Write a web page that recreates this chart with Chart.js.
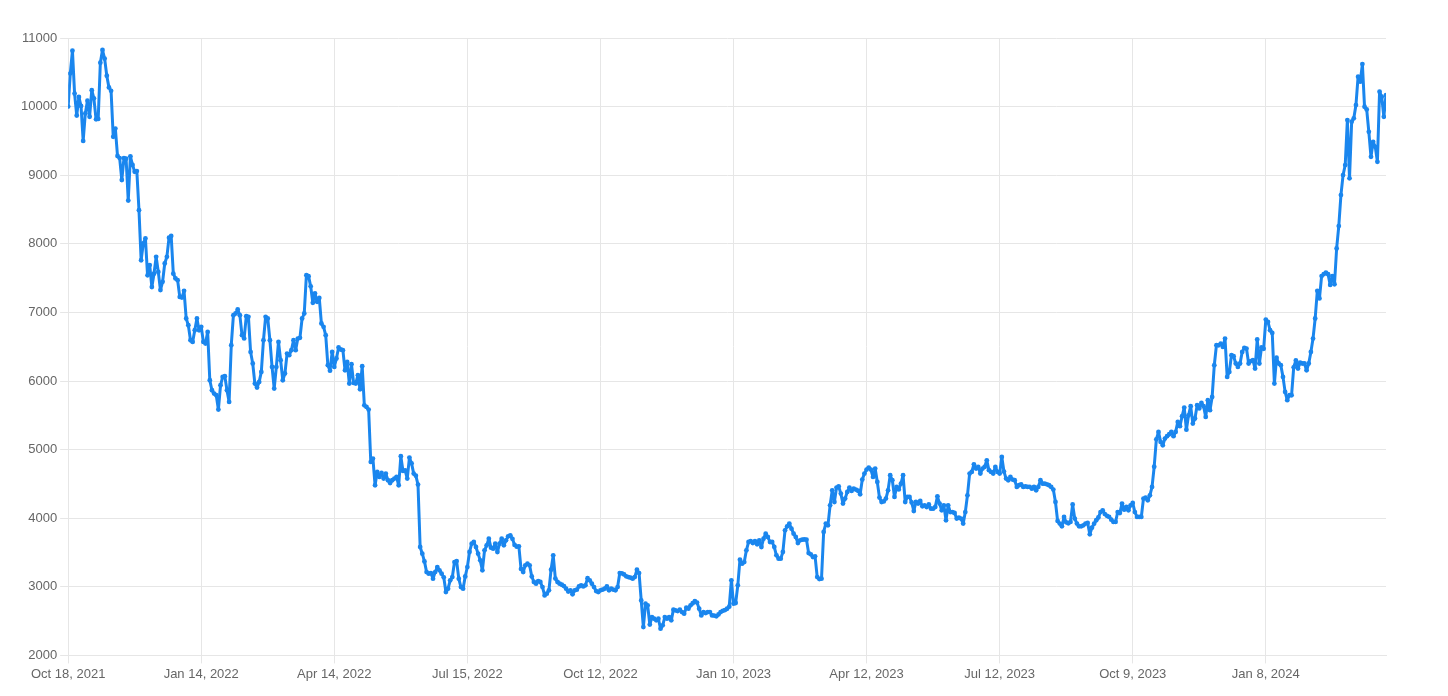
<!DOCTYPE html>
<html>
<head>
<meta charset="utf-8">
<script src="https://cdn.jsdelivr.net/npm/chart.js@4.4.1/dist/chart.umd.min.js"></script>
<style>
  html, body { margin: 0; padding: 0; background: #fff; }
  #wrap { width: 1448px; height: 696px; }
</style>
</head>
<body>
<div id="wrap"><canvas id="priceChart"></canvas></div>
<script>
// ─────────────── DATA ───────────────
// one value per trading day, a date label every 62 sessions
const tickLabels = ['Oct 18, 2021', 'Jan 14, 2022', 'Apr 14, 2022', 'Jul 15, 2022', 'Oct 12, 2022',
    'Jan 10, 2023', 'Apr 12, 2023', 'Jul 12, 2023', 'Oct 9, 2023', 'Jan 8, 2024'];
const tickEvery = 62;
const yTicks = [2000, 3000, 4000, 5000, 6000, 7000, 8000, 9000, 10000, 11000];

const values = [
    10000, 10485, 10815, 10190, 9870, 10140, 10010, 9500, 9900, 10085,
    9852, 10240, 10120, 9815, 9820, 10640, 10825, 10700, 10450, 10280,
    10230, 9560, 9680, 9280, 9250, 8930, 9250, 9240, 8630, 9275,
    9150, 9050, 9060, 8490, 7760, 8005, 8078, 7540, 7690, 7370,
    7565, 7810, 7590, 7325, 7445, 7713, 7810, 8090, 8115, 7565,
    7495, 7470, 7226, 7217, 7314, 6911, 6813, 6594, 6570, 6740,
    6911, 6740, 6790, 6570, 6546, 6716, 6011, 5865, 5817, 5792,
    5584, 5938, 6060, 6070, 5865, 5695, 6522, 6960, 6984, 7042,
    6960, 6668, 6620, 6945, 6935, 6424, 6255, 5963, 5905, 5987,
    6132, 6594, 6935, 6911, 6594, 6205, 5890, 6205, 6570, 6303,
    6011, 6109, 6400, 6376, 6449, 6594, 6449, 6619, 6630, 6911,
    6984, 7543, 7528, 7380, 7140, 7276, 7154, 7210, 6838, 6789,
    6668, 6230, 6150, 6424, 6205, 6328, 6488, 6459, 6449, 6157,
    6278, 5963, 6244, 5972, 5963, 6084, 5880, 6215, 5646, 5622,
    5584, 4820, 4869, 4480, 4674, 4601, 4660, 4577, 4650, 4553,
    4513, 4553, 4577, 4601, 4480, 4903, 4689, 4698, 4577, 4884,
    4800, 4650, 4620, 4490, 3580, 3483, 3370, 3215, 3192, 3200,
    3119, 3215, 3288, 3240, 3192, 3138, 2923, 2973, 3094, 3142,
    3361, 3375, 3119, 2996, 2973, 3150, 3288, 3507, 3629, 3653,
    3580, 3483, 3386, 3240, 3532, 3604, 3702, 3570, 3556, 3629,
    3507, 3629, 3702, 3604, 3677, 3736, 3750, 3700, 3610, 3585,
    3590, 3260, 3215, 3313, 3337, 3313, 3150, 3070, 3046, 3084,
    3070, 2996, 2875, 2900, 2948, 3250, 3459, 3120, 3070, 3046,
    3030, 3010, 2973, 2930, 2948, 2890, 2948, 2958, 3006, 3021,
    3006, 3021, 3125, 3094, 3046, 2996, 2938, 2923, 2948, 2958,
    2973, 3006, 2948, 2973, 2958, 2950, 2996, 3200, 3195, 3180,
    3152, 3142, 3133, 3119, 3142, 3250, 3200, 2802, 2413, 2754,
    2730, 2450, 2559, 2535, 2511, 2535, 2389, 2438, 2559, 2535,
    2559, 2511, 2667, 2656, 2646, 2667, 2632, 2608, 2696, 2681,
    2730, 2760, 2792, 2770, 2681, 2583, 2632, 2617, 2632, 2632,
    2583, 2580, 2569, 2598, 2632, 2650, 2660, 2680, 2710, 3094,
    2754, 2764, 3021, 3396, 3337, 3361, 3532, 3653, 3667, 3638,
    3667, 3620, 3677, 3580, 3702, 3775, 3726, 3653, 3653, 3580,
    3459, 3410, 3410, 3507, 3823, 3882, 3921, 3848, 3775, 3726,
    3638, 3677, 3687, 3690, 3687, 3492, 3473, 3434, 3444, 3142,
    3113, 3119, 3799, 3921, 3896, 4188, 4407, 4236, 4446, 4465,
    4359, 4213, 4286, 4383, 4446, 4397, 4431, 4417, 4400, 4349,
    4563, 4650, 4709, 4738, 4709, 4601, 4723, 4528, 4300, 4236,
    4245, 4286, 4407, 4626, 4553, 4310, 4456, 4420, 4504, 4626,
    4236, 4310, 4310, 4230, 4105, 4236, 4213, 4251, 4173, 4188,
    4163, 4200, 4139, 4139, 4163, 4319, 4213, 4115, 4188, 3969,
    4188, 4090, 4090, 4076, 3994, 4008, 3994, 3921, 4090, 4334,
    4650, 4674, 4786, 4723, 4747, 4650, 4723, 4747, 4844, 4700,
    4674, 4650, 4747, 4674, 4650, 4893, 4680, 4577, 4553, 4601,
    4563, 4553, 4456, 4480, 4494, 4456, 4465, 4456, 4456, 4431,
    4456, 4407, 4456, 4553, 4504, 4504, 4494, 4480, 4456, 4417,
    4236, 3960, 3921, 3882, 4018, 3940, 3925, 3945, 4200, 3994,
    3921, 3882, 3882, 3896, 3921, 3930, 3765, 3862, 3920, 3970,
    4010, 4090, 4115, 4060, 4035, 4018, 3979, 3945, 3945, 4090,
    4076, 4213, 4125, 4163, 4115, 4188, 4222, 4090, 4018, 4018,
    4018, 4286, 4300, 4261, 4334, 4456, 4750, 5150, 5258, 5112,
    5063, 5161, 5195, 5224, 5258, 5195, 5258, 5404, 5341, 5487,
    5613, 5290, 5500, 5633, 5379, 5453, 5647, 5600, 5681, 5633,
    5477, 5720, 5574, 5768, 6230, 6522, 6520, 6546, 6497, 6619,
    6060, 6132, 6376, 6361, 6255, 6205, 6255, 6424, 6483, 6473,
    6255, 6290, 6303, 6182, 6605, 6255, 6488, 6470, 6896, 6861,
    6740, 6700, 5963, 6340, 6255, 6230, 6060, 5841, 5720, 5792,
    5792, 6200, 6300, 6182, 6266, 6255, 6255, 6157, 6255, 6424,
    6619, 6911, 7314, 7203, 7530, 7557, 7580, 7557, 7400, 7530,
    7410, 7932, 8258, 8710, 9002, 9148, 9804, 8954, 9780, 9829,
    10022, 10436, 10363, 10620, 9998, 9959, 9633, 9268, 9487, 9414,
    9195, 10217, 10144, 9852, 10168
];

// ─────────────── CHART ───────────────
const lineColor = '#1a86ee';
const gridColor = '#e6e6e6';
const textColor = '#666666';
const tickFont = { family: 'Liberation Sans, Arial, sans-serif', size: 13 };

const points = values.map((v, i) => ({ x: i, y: v }));

const ctx = document.getElementById('priceChart');
new Chart(ctx, {
    type: 'line',
    data: {
        datasets: [{
            data: points,
            borderColor: lineColor,
            backgroundColor: lineColor,
            borderWidth: 3,
            borderJoinStyle: 'round',
            borderCapStyle: 'round',
            pointRadius: 2.4,
            pointBorderWidth: 0,
            pointBackgroundColor: lineColor,
            tension: 0,
            fill: false
        }]
    },
    options: {
        responsive: true,
        maintainAspectRatio: false,
        animation: false,
        devicePixelRatio: 1,
        layout: { padding: { left: 18, right: 62, top: 38, bottom: 11 } },
        plugins: {
            legend: { display: false },
            tooltip: { enabled: false }
        },
        scales: {
            x: {
                type: 'linear',
                min: 0,
                max: values.length - 1,
                grid: { color: gridColor },
                border: { color: gridColor },
                ticks: {
                    stepSize: tickEvery,
                    includeBounds: false,
                    maxRotation: 0,
                    autoSkip: false,
                    color: textColor,
                    font: tickFont,
                    callback: (v) => tickLabels[v / tickEvery] || ''
                }
            },
            y: {
                min: yTicks[0],
                max: yTicks[yTicks.length - 1],
                grid: { color: gridColor },
                border: { color: gridColor },
                ticks: {
                    stepSize: 1000,
                    color: textColor,
                    font: tickFont,
                    callback: (v) => String(v)
                }
            }
        }
    }
});
</script>
</body>
</html>
